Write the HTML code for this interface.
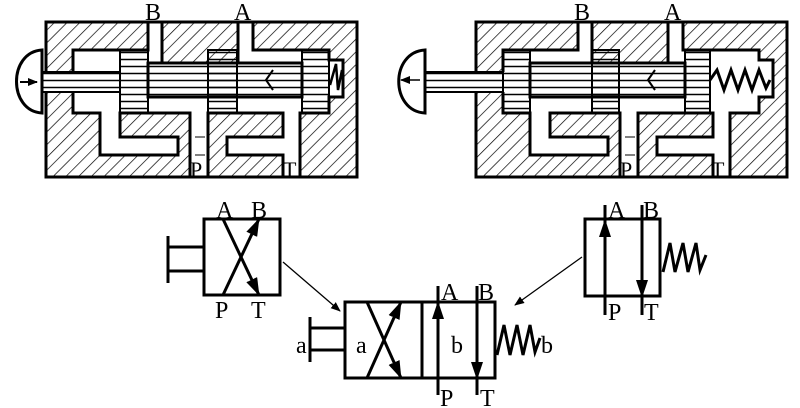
<!DOCTYPE html>
<html><head><meta charset="utf-8"><style>
html,body{margin:0;padding:0;background:#fff;}
svg{display:block;}
text{font-family:"Liberation Serif",serif;fill:#000;}
</style></head><body>
<svg width="800" height="408" viewBox="0 0 800 408" xmlns="http://www.w3.org/2000/svg">
<defs>
<pattern id="h" patternUnits="userSpaceOnUse" width="9" height="9" patternTransform="rotate(45)">
<line x1="0" y1="0" x2="0" y2="9" stroke="#000" stroke-width="1.4"/>
</pattern>
<pattern id="s" patternUnits="userSpaceOnUse" width="400" height="7">
<line x1="0" y1="3.5" x2="400" y2="3.5" stroke="#000" stroke-width="1.6"/>
</pattern>
<marker id="ar" markerWidth="10" markerHeight="8" refX="9" refY="4" orient="auto" markerUnits="userSpaceOnUse">
<path d="M0,0 L10,4 L0,8 Z" fill="#000"/>
</marker>
<marker id="ab" markerWidth="18" markerHeight="12" refX="17" refY="6" orient="auto" markerUnits="userSpaceOnUse">
<path d="M0,0 L18,6 L0,12 Z" fill="#000"/>
</marker>
<g id="body">
<rect x="46" y="22" width="311" height="155" fill="url(#h)" stroke="#000" stroke-width="3"/>
<path d="M73,50 L148,50 L148,22 L162,22 L162,63 L238,63 L238,22 L253,22 L253,50 L329,50 L329,60 L343,60 L343,97 L329,97 L329,113 L300,113 L300,177 L283,177 L283,155 L227,155 L227,137 L283,137 L283,113 L208,113 L208,177 L190,177 L190,113 L120,113 L120,137 L178,137 L178,155 L100,155 L100,113 L73,113 Z" fill="#fff" stroke="#000" stroke-width="3" stroke-linejoin="miter"/>
<rect x="44" y="72" width="31" height="20" fill="#fff"/>
<line x1="46" y1="72" x2="73" y2="72" stroke="#000" stroke-width="2"/>
<line x1="46" y1="92" x2="73" y2="92" stroke="#000" stroke-width="2"/>
<line x1="195" y1="137" x2="205" y2="137" stroke="#000" stroke-width="1"/>
<line x1="195" y1="155" x2="205" y2="155" stroke="#000" stroke-width="1"/>
</g>
</defs>

<!-- Left valve -->
<use href="#body"/>
<g stroke="#000" stroke-width="2">
<rect x="40" y="72" width="80" height="20" fill="url(#s)"/>
<rect x="148" y="63" width="154" height="34" fill="url(#s)" stroke-width="3"/>
<rect x="120" y="50" width="28" height="63" fill="url(#s)"/>
<rect x="208" y="50" width="29" height="63" fill="url(#s)"/>
<rect x="302" y="50" width="27" height="63" fill="url(#s)"/>
</g>
<path d="M42,50 C8,52 8,111 42,113 Z" fill="#fff" stroke="#000" stroke-width="3"/>
<line x1="20" y1="82" x2="37" y2="82" stroke="#000" stroke-width="2" marker-end="url(#ar)"/>
<path d="M273,70 L266,80 L273,90" fill="none" stroke="#000" stroke-width="2"/>
<path d="M330,85 L336,64 L338,90 L342,70" fill="none" stroke="#000" stroke-width="2.5"/>
<text x="145" y="20" font-size="24">B</text>
<text x="234" y="20" font-size="24">A</text>
<text x="190" y="177" font-size="22">P</text>
<text x="283" y="177" font-size="22">T</text>

<!-- Right valve -->
<use href="#body" transform="translate(430,0)"/>
<g stroke="#000" stroke-width="2">
<rect x="425" y="72" width="78" height="20" fill="url(#s)"/>
<rect x="530" y="63" width="155" height="34" fill="url(#s)" stroke-width="3"/>
<rect x="503" y="50" width="27" height="63" fill="url(#s)"/>
<rect x="592" y="50" width="27" height="63" fill="url(#s)"/>
<rect x="685" y="50" width="25" height="63" fill="url(#s)"/>
</g>
<path d="M425,50 C390,52 390,111 425,113 Z" fill="#fff" stroke="#000" stroke-width="3"/>
<line x1="420" y1="80" x2="401" y2="80" stroke="#000" stroke-width="1.5" marker-end="url(#ar)"/>
<path d="M655,70 L648,80 L655,90" fill="none" stroke="#000" stroke-width="2"/>
<path d="M710,80 L717,70 L724,90 L731,70 L738,90 L745,70 L752,90 L759,70 L766,88 L770,80" fill="none" stroke="#000" stroke-width="3"/>
<text x="574" y="20" font-size="24">B</text>
<text x="664" y="20" font-size="24">A</text>
<text x="620" y="177" font-size="22">P</text>
<text x="711" y="177" font-size="22">T</text>

<!-- Top-left symbol -->
<g stroke="#000" stroke-width="3" fill="none">
<rect x="204" y="219" width="76" height="76"/>
<line x1="168" y1="236" x2="168" y2="283"/>
<line x1="168" y1="247" x2="204" y2="247"/>
<line x1="168" y1="271" x2="204" y2="271"/>
<line x1="223" y1="219" x2="259" y2="295" marker-end="url(#ab)"/>
<line x1="223" y1="295" x2="259" y2="219" marker-end="url(#ab)"/>
</g>
<text x="216" y="218" font-size="24">A</text>
<text x="251" y="218" font-size="24">B</text>
<text x="215" y="318" font-size="24">P</text>
<text x="251" y="318" font-size="24">T</text>

<!-- Top-right symbol -->
<g stroke="#000" stroke-width="3" fill="none">
<rect x="585" y="219" width="75" height="77"/>
<line x1="605" y1="300" x2="605" y2="220" marker-end="url(#ab)"/>
<line x1="605" y1="205" x2="605" y2="315"/>
<line x1="642" y1="205" x2="642" y2="297" marker-end="url(#ab)"/>
<line x1="642" y1="296" x2="642" y2="315"/>
<path d="M663,272 L670,243 L675,272 L683,243 L688,272 L696,243 L700,270 L706,255"/>
</g>
<text x="608" y="218" font-size="24">A</text>
<text x="643" y="218" font-size="24">B</text>
<text x="608" y="320" font-size="24">P</text>
<text x="644" y="320" font-size="24">T</text>

<!-- Bottom symbol -->
<g stroke="#000" stroke-width="3" fill="none">
<rect x="345" y="302" width="150" height="76"/>
<line x1="422" y1="302" x2="422" y2="378"/>
<line x1="310" y1="317" x2="310" y2="362"/>
<line x1="310" y1="328" x2="345" y2="328"/>
<line x1="310" y1="350" x2="345" y2="350"/>
<line x1="367" y1="302" x2="401" y2="378" marker-end="url(#ab)"/>
<line x1="367" y1="378" x2="401" y2="302" marker-end="url(#ab)"/>
<line x1="438" y1="395" x2="438" y2="302" marker-end="url(#ab)"/>
<line x1="438" y1="286" x2="438" y2="302"/>
<line x1="477" y1="286" x2="477" y2="379" marker-end="url(#ab)"/>
<line x1="477" y1="378" x2="477" y2="395"/>
<path d="M497,355 L504,325 L510,355 L517,325 L523,355 L530,325 L535,352 L540,338"/>
</g>
<text x="441" y="300" font-size="24">A</text>
<text x="478" y="300" font-size="24">B</text>
<text x="440" y="406" font-size="24">P</text>
<text x="480" y="406" font-size="24">T</text>
<text x="296" y="353" font-size="24">a</text>
<text x="356" y="353" font-size="24">a</text>
<text x="451" y="353" font-size="24">b</text>
<text x="541" y="353" font-size="24">b</text>

<!-- connector arrows -->
<line x1="283" y1="262" x2="340" y2="311" stroke="#000" stroke-width="1.3" marker-end="url(#ar)"/>
<line x1="582" y1="257" x2="515" y2="305" stroke="#000" stroke-width="1.3" marker-end="url(#ar)"/>
</svg>
</body></html>
